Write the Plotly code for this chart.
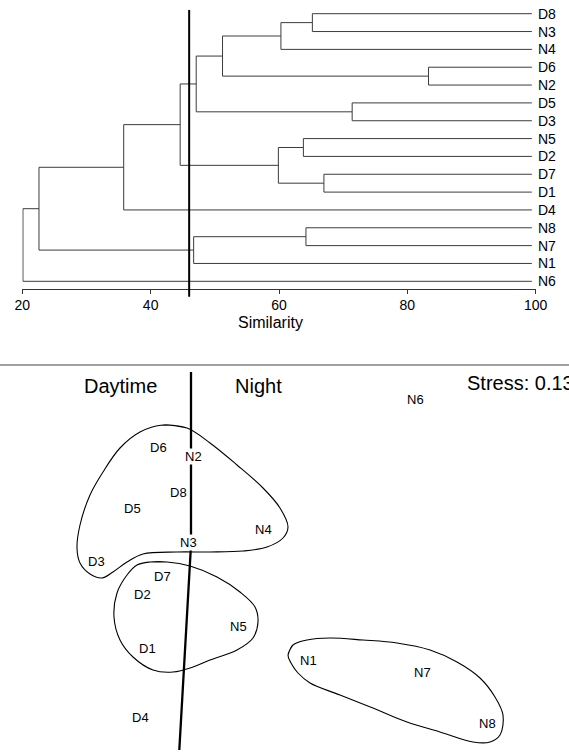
import plotly.graph_objects as go

# ---------------- Cluster dendrogram (group-average similarity) ----------------
leaves = ["D8", "N3", "N4", "D6", "N2", "D5", "D3", "N5",
          "D2", "D7", "D1", "D4", "N8", "N7", "N1", "N6"]

# (left member, right member, similarity at fusion); ints refer to earlier fusions
fusions = [
    ("D8", "N3", 65.2),   # 0
    (0, "N4", 60.3),      # 1
    ("D6", "N2", 83.3),   # 2
    (1, 2, 51.2),         # 3
    ("D5", "D3", 71.4),   # 4
    (3, 4, 47.1),         # 5
    ("N5", "D2", 63.8),   # 6
    ("D7", "D1", 67.0),   # 7
    (6, 7, 59.9),         # 8
    (5, 8, 44.6),         # 9
    (9, "D4", 35.8),      # 10
    ("N8", "N7", 64.2),   # 11
    (11, "N1", 46.7),     # 12
    (10, 12, 22.6),       # 13
    (13, "N6", 20.1),     # 14
]
cut_level = 46.0
sim_ticks = [20, 40, 60, 80, 100]
leaf_end = 99.4

# ---------------- nMDS ordination ----------------
mds_labels = ["N6", "D6", "N2", "D8", "D5", "N4", "N3", "D3",
              "D7", "D2", "N5", "D1", "D4", "N1", "N7", "N8"]
mds_x = [1.15, -1.42, -1.07, -1.22, -1.68, -0.37, -1.12, -2.04,
         -1.38, -1.58, -0.62, -1.53, -1.60, 0.08, 1.22, 1.87]
mds_y = [1.61, 1.13, 1.04, 0.68, 0.52, 0.31, 0.18, -0.01,
         -0.16, -0.34, -0.66, -0.88, -1.57, -1.00, -1.12, -1.63]

# day / night dividing line
divide_x = [-1.09, -1.09, -1.207]
divide_y = [1.88, 0.15, -1.90]

# groups at the cut-off similarity, outlined
group_a_x = [-1.37, -1.13, -0.90, -0.63, -0.37, -0.20, -0.12, -0.17, -0.33, -0.57,
             -0.90, -1.23, -1.57, -1.73, -1.87, -1.98, -2.10, -2.20, -2.23, -2.20,
             -2.10, -1.97, -1.80, -1.60]
group_a_y = [1.35, 1.32, 1.17, 0.95, 0.72, 0.52, 0.33, 0.22, 0.13, 0.09,
             0.08, 0.08, 0.06, -0.02, -0.12, -0.18, -0.14, -0.03, 0.12, 0.35,
             0.65, 0.88, 1.12, 1.28]
group_b_x = [-1.50, -1.33, -1.10, -0.83, -0.60, -0.45, -0.42, -0.47, -0.63, -0.90,
             -1.07, -1.27, -1.47, -1.67, -1.80, -1.86, -1.83, -1.73, -1.63]
group_b_y = [-0.02, -0.02, -0.06, -0.17, -0.32, -0.47, -0.62, -0.78, -0.90, -1.00,
             -1.07, -1.12, -1.10, -0.97, -0.80, -0.57, -0.33, -0.15, -0.05]
group_c_x = [-0.12, -0.07, 0.07, 0.30, 0.63, 0.97, 1.30, 1.57, 1.80, 1.95,
             2.03, 2.00, 1.90, 1.73, 1.40, 1.07, 0.73, 0.40, 0.10, -0.02, -0.09]
group_c_y = [-0.95, -0.85, -0.80, -0.78, -0.80, -0.83, -0.90, -1.02, -1.18, -1.37,
             -1.55, -1.75, -1.82, -1.82, -1.72, -1.62, -1.48, -1.35, -1.23, -1.13, -1.03]

FONT = "Arial, Liberation Sans, sans-serif"
W, H = 569, 753
DEND_BOTTOM = 288.5   # pixel row of the similarity axis
MDS_TOP = 366         # pixel row where the ordination panel starts
ROW0, ROW_STEP = 13.7, 17.84

fig = go.Figure()

# build the dendrogram segments
pos = {name: (leaf_end, i) for i, name in enumerate(leaves)}
seg_x, seg_y = [], []
for k, (a, b, s) in enumerate(fusions):
    xa, ya = pos[a]
    xb, yb = pos[b]
    seg_x += [xa, s, s, xb, None]
    seg_y += [ya, ya, yb, yb, None]
    pos[k] = (s, (ya + yb) / 2)

fig.add_trace(go.Scatter(x=seg_x, y=seg_y, mode="lines",
                         line=dict(color="#3c3c3c", width=1),
                         hoverinfo="skip", showlegend=False,
                         xaxis="x", yaxis="y"))

for i, name in enumerate(leaves):
    fig.add_annotation(x=leaf_end, y=i, xref="x", yref="y", text=name,
                       showarrow=False, xanchor="left", yanchor="middle",
                       xshift=4, font=dict(family=FONT, size=14, color="black"))

# cut-off similarity line
fig.add_shape(type="line", xref="x", yref="paper",
              x0=cut_level, x1=cut_level,
              y0=1 - 296.7 / H, y1=1 - 10 / H,
              line=dict(color="black", width=2))

# ordination: outlines, dividing line and sample labels
for gx, gy in [(group_a_x, group_a_y), (group_b_x, group_b_y), (group_c_x, group_c_y)]:
    fig.add_trace(go.Scatter(x=gx + gx[:2], y=gy + gy[:2], mode="lines",
                             line=dict(color="black", width=1.1, shape="spline", smoothing=1.0),
                             hoverinfo="skip", showlegend=False,
                             xaxis="x2", yaxis="y2"))

fig.add_trace(go.Scatter(x=divide_x, y=divide_y, mode="lines",
                         line=dict(color="black", width=2.3),
                         hoverinfo="skip", showlegend=False,
                         xaxis="x2", yaxis="y2"))

for name, x, y in zip(mds_labels, mds_x, mds_y):
    fig.add_annotation(x=x, y=y, xref="x2", yref="y2", text=name,
                       showarrow=False, xanchor="center", yanchor="middle",
                       bgcolor="white", borderpad=0,
                       font=dict(family=FONT, size=13, color="black"))

# titles and panel text
fig.add_annotation(x=270 / W, y=1 - 322 / H, xref="paper", yref="paper",
                   text="Similarity", showarrow=False, xanchor="center", yanchor="middle",
                   font=dict(family=FONT, size=16, color="black"))
fig.add_annotation(x=120 / W, y=1 - 386 / H, xref="paper", yref="paper",
                   text="Daytime", showarrow=False, xanchor="center", yanchor="middle",
                   font=dict(family=FONT, size=20, color="black"))
fig.add_annotation(x=258.5 / W, y=1 - 386 / H, xref="paper", yref="paper",
                   text="Night", showarrow=False, xanchor="center", yanchor="middle",
                   font=dict(family=FONT, size=20, color="black"))
fig.add_annotation(x=465 / W, y=1 - 382.5 / H, xref="paper", yref="paper",
                   text="Stress: 0.13", showarrow=False, xanchor="left", yanchor="middle",
                   font=dict(family=FONT, size=20, color="black"))

# panel separator
fig.add_shape(type="line", xref="paper", yref="paper", x0=0, x1=1,
              y0=1 - 365 / H, y1=1 - 365 / H,
              line=dict(color="#808080", width=1.5))

fig.update_layout(
    width=W, height=H, autosize=False,
    margin=dict(l=0, r=0, t=0, b=0, pad=0, autoexpand=False),
    paper_bgcolor="white", plot_bgcolor="white",
    font=dict(family=FONT, color="black"),
    xaxis=dict(domain=[22.3 / W, 535.7 / W], range=[20, 100], automargin=False,
               anchor="y", tickvals=sim_ticks, ticks="outside", ticklen=4,
               tickcolor="#333", showline=True, linecolor="#333", linewidth=1,
               showgrid=False, zeroline=False,
               tickfont=dict(family=FONT, size=14, color="black")),
    yaxis=dict(domain=[1 - DEND_BOTTOM / H, 1], automargin=False,
               range=[(DEND_BOTTOM - ROW0) / ROW_STEP, -ROW0 / ROW_STEP],
               anchor="x", visible=False),
    xaxis2=dict(domain=[0, 1], range=[-3.0, 2.69], anchor="y2", visible=False,
                automargin=False),
    yaxis2=dict(domain=[0, 1 - MDS_TOP / H], range=[-1.93, 1.94], anchor="x2",
                visible=False, automargin=False),
)

fig.write_html("out.html", config={"responsive": False})
